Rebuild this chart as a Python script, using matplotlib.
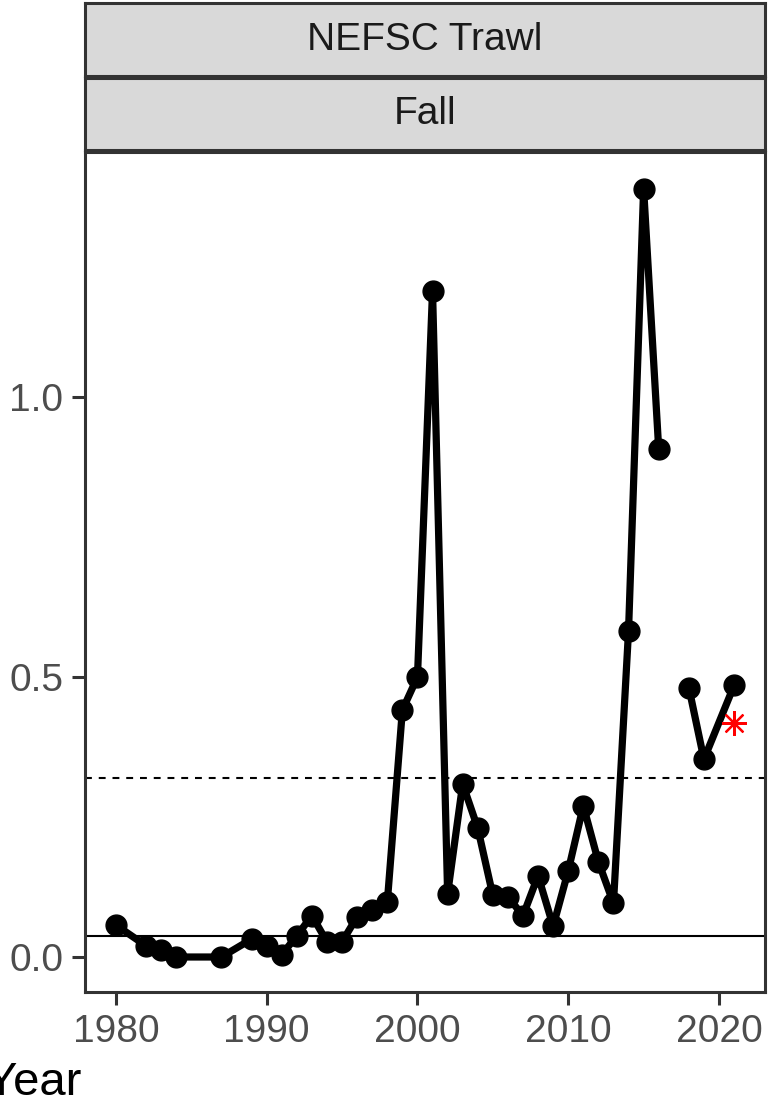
import matplotlib.pyplot as plt
import numpy as np

plt.rcParams['font.family'] = ['Liberation Sans', 'DejaVu Sans']

# годы съёмки и индекс (2017 - пропуск, линия рвётся)
years = [1980, 1982, 1983, 1984, 1987, 1989, 1990, 1991, 1992, 1993, 1994,
         1995, 1996, 1997, 1998, 1999, 2000, 2001, 2002, 2003, 2004, 2005,
         2006, 2007, 2008, 2009, 2010, 2011, 2012, 2013, 2014, 2015, 2016,
         2017, 2018, 2019, 2021]
index = [0.057, 0.020, 0.013, 0.0, 0.0, 0.032, 0.020, 0.004, 0.038, 0.074,
         0.027, 0.027, 0.072, 0.084, 0.098, 0.441, 0.500, 1.190, 0.113,
         0.309, 0.230, 0.110, 0.107, 0.074, 0.145, 0.055, 0.154, 0.270,
         0.170, 0.096, 0.583, 1.372, 0.907, np.nan, 0.481, 0.353, 0.485]

# опорные уровни
upper_ref = 0.319
lower_ref = 0.0375

# отдельная оценка за последний год
star_year = [2021]
star_value = [0.418]

x_ticks = [1980, 1990, 2000, 2010, 2020]
y_ticks = [0.0, 0.5, 1.0]
strip_labels = ["NEFSC Trawl", "Fall"]

W, H = 770, 1102
fig = plt.figure(figsize=(W / 100, H / 100), dpi=100)

# основная панель
ax = fig.add_axes([85 / W, 1 - 992 / H, 680 / W, 840 / H])
ax.plot(years, index, color='black', lw=5.2, solid_capstyle='butt', zorder=3)
ax.plot(years, index, 'o', color='black', ms=15, zorder=4)
ax.axhline(upper_ref, color='black', lw=1.5, ls=(0, (3.3, 3.3)), zorder=2)
ax.axhline(lower_ref, color='black', lw=1.5, zorder=2)
ax.plot(star_year, star_value, marker=(8, 2, 0), color='red', ms=18,
        mew=1.6, ls='', zorder=5)

ax.set_xlim(1977.95, 2023.05)
ax.set_ylim(-0.0625, 1.4375)
ax.set_xticks(x_ticks)
ax.set_yticks(y_ticks)
ax.set_yticklabels([f"{v:.1f}" for v in y_ticks])
ax.tick_params(axis='both', colors='#333333', length=9.5, width=2.2,
               labelsize=28, labelcolor='#4D4D4D')
ax.tick_params(axis='x', pad=6)
ax.tick_params(axis='y', pad=6)
for s in ax.spines.values():
    s.set_color('#333333')
    s.set_linewidth(2.2)

# полосы заголовков фасета
strip_boxes = [(3, 76), (78, 150)]
for (top, bot), label in zip(strip_boxes, strip_labels):
    sax = fig.add_axes([85 / W, 1 - bot / H, 680 / W, (bot - top) / H])
    sax.set_xticks([])
    sax.set_yticks([])
    sax.set_facecolor('#D9D9D9')
    for s in sax.spines.values():
        s.set_color('#333333')
        s.set_linewidth(2.2)
    sax.text(0.5, 0.5, label, ha='center', va='center', fontsize=28,
             color='#1A1A1A', transform=sax.transAxes)

fig.text(-14 / W, 1 - 1095 / H, "Year", fontsize=34, color='black',
         ha='left', va='baseline')

fig.savefig('out.png', dpi=100)
